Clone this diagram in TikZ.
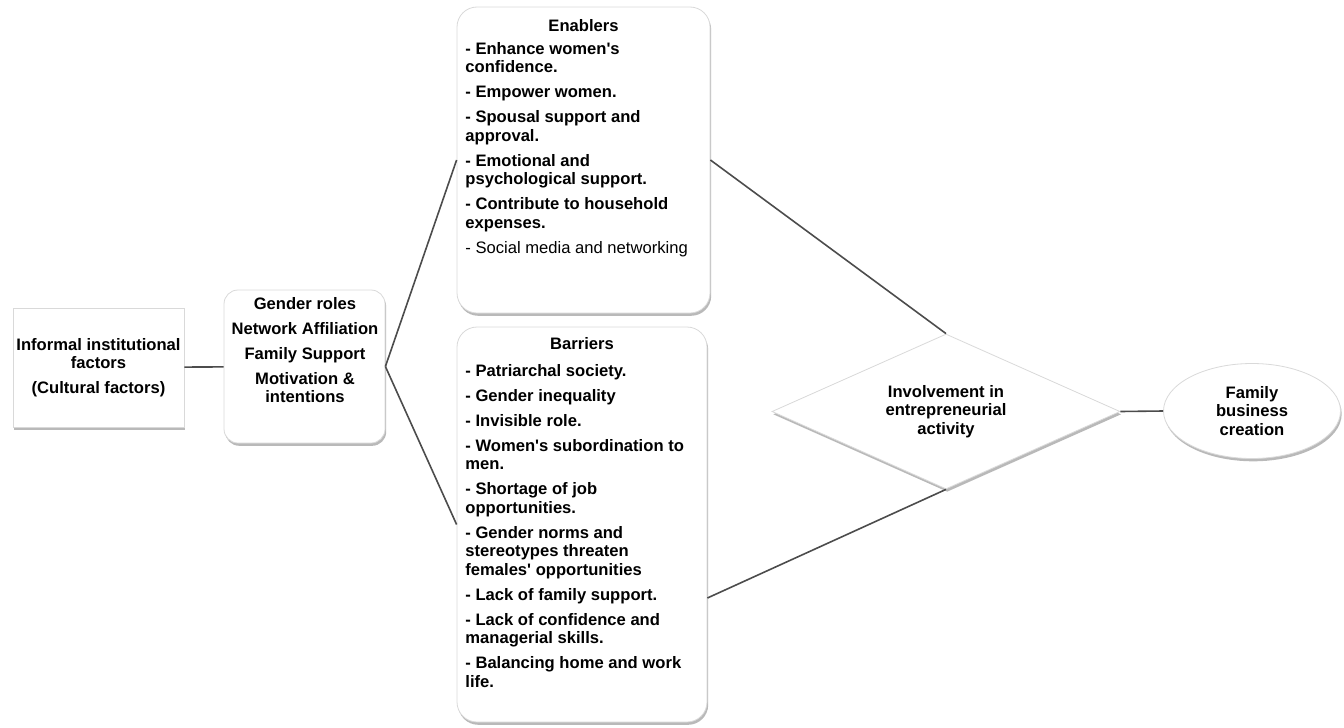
\documentclass[tikz,border=0pt]{standalone}
\usepackage{fontspec}
\setmainfont{Liberation Sans}
\usetikzlibrary{shapes.geometric,shadows}

\tikzset{
  box/.style={draw=black!15, fill=white, line width=0.4pt,
    drop shadow={shadow xshift=0.6pt, shadow yshift=-1.4pt, opacity=0.55, fill=black!50}},
  txt/.style={font=\fontsize{8.3}{9.25}\selectfont\bfseries, inner sep=0pt},
  link/.style={draw=black!70, line width=0.8pt}
}

\begin{document}
\begin{tikzpicture}[x=0.5pt, y=-0.5pt]
    \useasboundingbox (0,0) rectangle (1344,728);

    \node[box, txt, align=center, minimum width=85.5pt, minimum height=59.5pt] (IF) at (98.5,367.5)
        {Informal institutional\\factors\\[3.25pt](Cultural factors)};

    \node[box, rounded corners=7pt, minimum width=80.5pt, minimum height=76.5pt] (GR) at (304.5,366.5) {};
    \node[txt, align=center, anchor=north] (GRtext) at (305,297)
        {Gender roles\\[3.25pt]Network Affiliation\\[3.25pt]Family Support\\[3.25pt]Motivation \&\\intentions};

    \node[box, rounded corners=10pt, minimum width=126.5pt, minimum height=153pt] (EN) at (583.5,160) {};
    \node[txt, anchor=north] (ENtitle) at (583.5,19) {Enablers};
    \node[txt, align=left, anchor=north west] (ENtext) at (465,42)
        {- Enhance women\textquotesingle s\\confidence.\\[3.25pt]- Empower women.\\[3.25pt]- Spousal support and\\approval.\\[3.25pt]- Emotional and\\psychological support.\\[3.25pt]- Contribute to household\\expenses.\\[3.25pt]{\mdseries - Social media and networking}};

    \node[box, rounded corners=10pt, minimum width=125pt, minimum height=197.5pt] (BA) at (582,524.5) {};
    \node[txt, anchor=north] (BAtitle) at (582,337) {Barriers};
    \node[txt, align=left, anchor=north west] (BAtext) at (465,364)
        {- Patriarchal society.\\[3.25pt]- Gender inequality\\[3.25pt]- Invisible role.\\[3.25pt]- Women\textquotesingle s subordination to\\men.\\[3.25pt]- Shortage of job\\opportunities.\\[3.25pt]- Gender norms and\\stereotypes threaten\\females\textquotesingle\ opportunities\\[3.25pt]- Lack of family support.\\[3.25pt]- Lack of confidence and\\managerial skills.\\[3.25pt]- Balancing home and work\\life.};

    \node[box, txt, diamond, shape aspect=2.25, align=center, minimum width=174pt, minimum height=77.5pt] (IE) at (946,411.5)
        {Involvement in\\entrepreneurial\\activity};

    \node[box, txt, ellipse, align=center, minimum width=88.5pt, minimum height=47.5pt] (FB) at (1252,411)
        {Family\\business\\creation};

    \draw[link] (IF) -- (GR);
    \draw[link] (GR.east) -- (EN.west);
    \draw[link] (GR.east) -- (BA.west);
    \draw[link] (EN.east) -- (IE.north);
    \draw[link] ([yshift=-36.75pt]BA.east) -- (IE.south);
    \draw[link] (IE.east) -- (FB.west);

\end{tikzpicture}
\end{document}
